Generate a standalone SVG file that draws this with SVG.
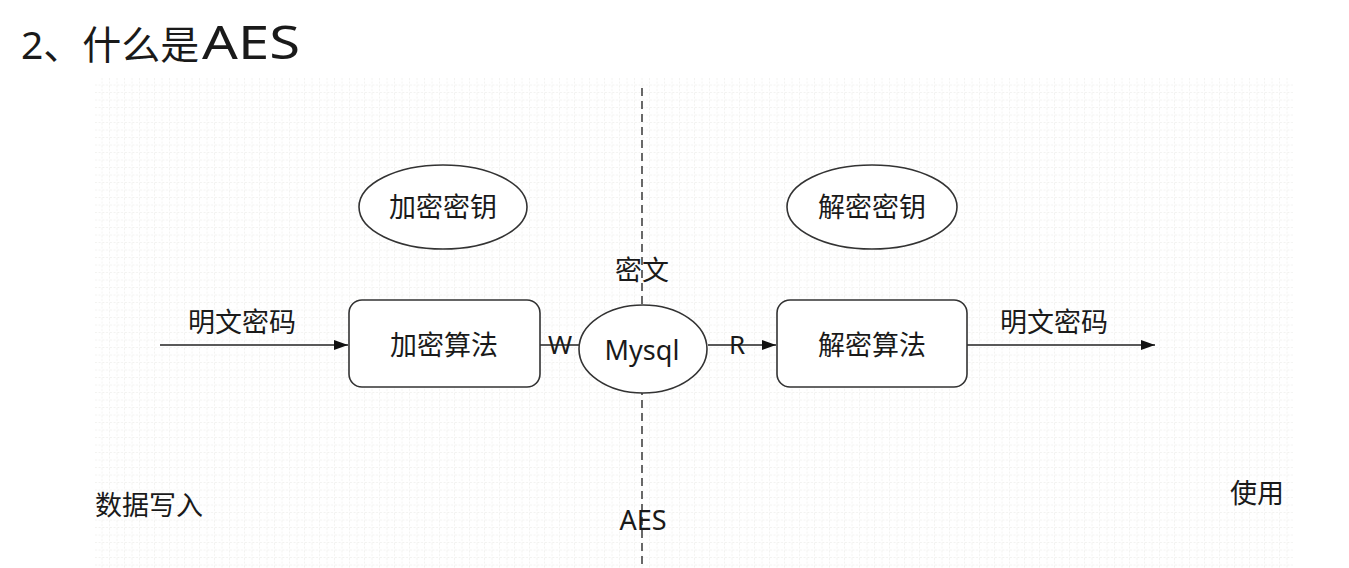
<svg xmlns="http://www.w3.org/2000/svg" width="1349" height="568" viewBox="0 0 1349 568">
<defs>
<pattern id="grid" x="95" y="78" width="7.5" height="7.5" patternUnits="userSpaceOnUse">
<path d="M7.5 0 V7.5 M0 7.5 H7.5" fill="none" stroke="#e6e6e2" stroke-width="1" stroke-dasharray="2 1.5"/>
</pattern>
<marker id="arr" viewBox="0 0 14 10" refX="14" refY="5" markerWidth="14" markerHeight="10" markerUnits="userSpaceOnUse" orient="auto">
<path d="M0 0 L14 5 L0 10 Z" fill="#111"/>
</marker>
</defs>
<style>
.t{font-family:"Noto Sans","Noto Sans CJK SC",sans-serif;fill:#1a1a1a;font-size:27px}
.c{text-anchor:middle}
.shape{fill:#fff;stroke:#333;stroke-width:1.6}
.edge{fill:none;stroke:#222;stroke-width:1.6}
</style>
<rect width="1349" height="568" fill="#fff"/>
<rect x="95" y="78" width="1198" height="490" fill="url(#grid)"/>
<text x="21" y="59" class="t" style="font-size:39px">2、什么是<tspan x="202" textLength="98" lengthAdjust="spacingAndGlyphs" style="font-size:45px">AES</tspan></text>
<line x1="642" y1="88" x2="642" y2="568" stroke="#444" stroke-width="1.6" stroke-dasharray="8 5"/>
<g id="connectors">
<line class="edge" x1="160" y1="345" x2="348" y2="345" marker-end="url(#arr)"/>
<line class="edge" x1="540" y1="345" x2="579" y2="345"/>
<line class="edge" x1="708" y1="345" x2="776" y2="345" marker-end="url(#arr)"/>
<line class="edge" x1="967" y1="345" x2="1155" y2="345" marker-end="url(#arr)"/>
<text x="242" y="332" class="t c">明文密码</text>
<text x="560" y="354" class="t c" style="font-size:26px">W</text>
<text x="737" y="354" class="t c" style="font-size:26px">R</text>
<text x="1054" y="332" class="t c">明文密码</text>
</g>
<g id="enc-key">
<ellipse class="shape" cx="443" cy="207" rx="84" ry="42"/>
<text x="443" y="217" class="t c">加密密钥</text>
</g>
<g id="dec-key">
<ellipse class="shape" cx="872" cy="207" rx="85" ry="42"/>
<text x="872" y="217" class="t c">解密密钥</text>
</g>
<g id="enc-algo">
<rect class="shape" x="349" y="300" width="191" height="87" rx="13"/>
<text x="444" y="355" class="t c">加密算法</text>
</g>
<g id="mysql">
<ellipse class="shape" cx="643" cy="349" rx="64" ry="44"/>
<text x="642" y="360" class="t c">Mysql</text>
</g>
<g id="dec-algo">
<rect class="shape" x="777" y="300" width="190" height="87" rx="13"/>
<text x="872" y="355" class="t c">解密算法</text>
</g>
<g id="labels">
<text x="642" y="280" class="t c">密文</text>
<text x="95" y="515" class="t">数据写入</text>
<text x="643" y="530" class="t c">AES</text>
<text x="1230" y="503" class="t">使用</text>
</g>
</svg>
